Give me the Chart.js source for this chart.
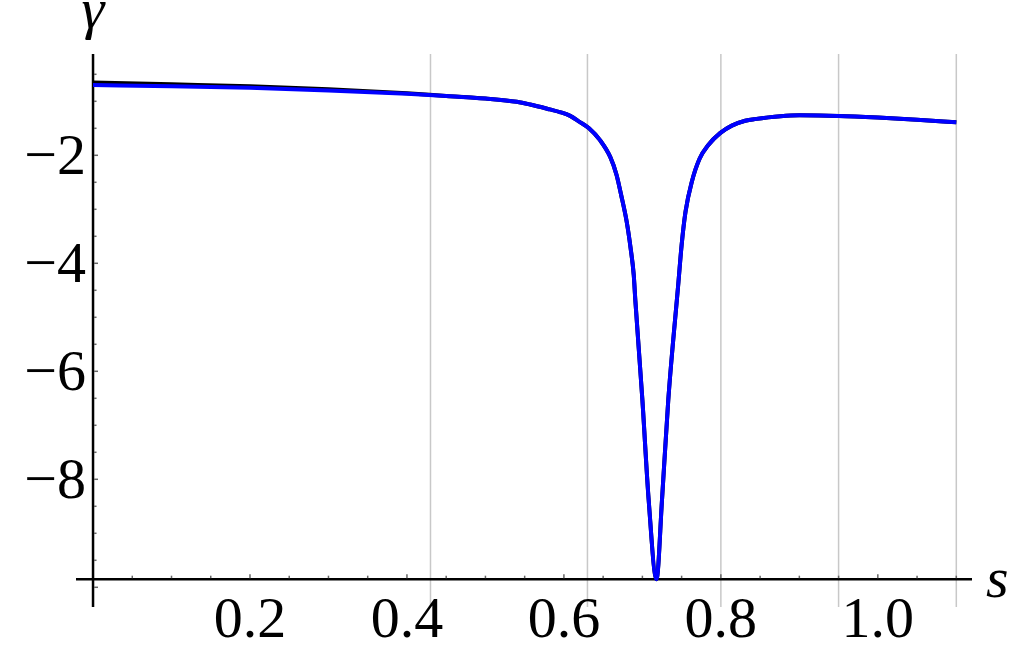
<!DOCTYPE html>
<html>
<head>
<meta charset="utf-8">
<script src="https://cdn.jsdelivr.net/npm/chart.js@4"></script>
<style>
  html, body { margin: 0; padding: 0; background: #fff; }
  #wrap { width: 1025px; height: 655px; position: relative; }
</style>
</head>
<body>
<div id="wrap"><canvas id="chartGamma"></canvas></div>
<script>
// ==================== DATA ====================
const sBlue = [0, 0.1, 0.2, 0.3, 0.4, 0.45, 0.5, 0.54, 0.557, 0.582, 0.595, 0.608, 0.62, 0.632, 0.646, 0.659, 0.667, 0.673, 0.68, 0.685, 0.689, 0.691, 0.7, 0.708, 0.718, 0.725, 0.733, 0.746, 0.75, 0.755, 0.763, 0.773, 0.784, 0.799, 0.814, 0.831, 0.843, 0.9, 0.95, 1.0, 1.05, 1.1];
const gammaBlue = [-0.70, -0.72, -0.75, -0.80, -0.86, -0.90, -0.95, -1.01, -1.06, -1.15, -1.20, -1.27, -1.38, -1.50, -1.72, -2.03, -2.36, -2.74, -3.23, -3.72, -4.22, -4.68, -6.53, -8.38, -9.85, -8.38, -6.53, -4.34, -3.66, -3.04, -2.49, -2.06, -1.81, -1.59, -1.45, -1.36, -1.33, -1.26, -1.27, -1.30, -1.34, -1.39];

const sBlack = [0, 0.1, 0.2, 0.3, 0.4, 0.45];
const gammaBlack = [-0.65, -0.685, -0.72, -0.775, -0.85, -0.90];

const xTicks = [0.2, 0.4, 0.6, 0.8, 1.0];
const xTickLabels = ["0.2", "0.4", "0.6", "0.8", "1.0"];
const yTicks = [-2, -4, -6, -8, -10];
const yTickLabels = ["−2", "−4", "−6", "−8", ""];
const gridS = [0.43, 0.63, 0.8, 0.95, 1.1];

const xAxisAt = -9.85;   // y value where the s axis crosses
const yAxisAt = 0;       // s value where the gamma axis crosses

// black curve joins the blue one after s = 0.45
const blackPoints = sBlack.map((s, i) => ({ x: s, y: gammaBlack[i] }))
    .concat(sBlue.map((s, i) => ({ x: s, y: gammaBlue[i] })).filter(p => p.x > 0.45));
const bluePoints = sBlue.map((s, i) => ({ x: s, y: gammaBlue[i] }));

const SERIF = '"Liberation Serif", "Times New Roman", serif';

// ==================== TRỤC KIỂU MATHEMATICA ====================
const mathAxes = {
    id: "mathAxes",
    beforeDatasetsDraw(chart) {
        const { ctx, chartArea, scales } = chart;
        const xs = scales.x, ys = scales.y;
        const x0 = xs.getPixelForValue(yAxisAt);
        const y0 = ys.getPixelForValue(xAxisAt);

        ctx.save();
        // gridlines
        ctx.strokeStyle = "#c8c8c8";
        ctx.lineWidth = 1.5;
        gridS.forEach(s => {
            const px = xs.getPixelForValue(s);
            ctx.beginPath();
            ctx.moveTo(px, chartArea.top);
            ctx.lineTo(px, chartArea.bottom);
            ctx.stroke();
        });

        // axis lines
        ctx.strokeStyle = "#000";
        ctx.lineWidth = 2.5;
        ctx.beginPath();
        ctx.moveTo(chartArea.left, y0);
        ctx.lineTo(chartArea.right, y0);
        ctx.moveTo(x0, chartArea.top);
        ctx.lineTo(x0, chartArea.bottom);
        ctx.stroke();

        // tick marks
        ctx.strokeStyle = "#666";
        ctx.lineWidth = 1.5;
        for (let k = 1; k <= 22; k++) {
            const s = k * 0.05;
            const px = xs.getPixelForValue(s);
            const len = (k % 4 === 0) ? 4 : 2.5;
            ctx.beginPath();
            ctx.moveTo(px, y0 - 1);
            ctx.lineTo(px, y0 - 1 - len);
            ctx.stroke();
        }
        for (let k = 1; k <= 20; k++) {
            const g = -k * 0.5;
            const py = ys.getPixelForValue(g);
            if (py < chartArea.top || py > chartArea.bottom) continue;
            const len = (k % 4 === 0) ? 4 : 2.5;
            ctx.beginPath();
            ctx.moveTo(x0 + 1, py);
            ctx.lineTo(x0 + 1 + len, py);
            ctx.stroke();
        }

        // tick labels
        ctx.fillStyle = "#000";
        ctx.font = "58px " + SERIF;
        ctx.textAlign = "center";
        ctx.textBaseline = "alphabetic";
        xTicks.forEach((s, i) => {
            ctx.fillText(xTickLabels[i], xs.getPixelForValue(s), y0 + 58);
        });
        ctx.textAlign = "right";
        ctx.textBaseline = "middle";
        yTicks.forEach((g, i) => {
            if (!yTickLabels[i]) return;
            ctx.fillText(yTickLabels[i], x0 - 7, ys.getPixelForValue(g) + 3);
        });

        // axis titles
        ctx.font = "italic 58px " + SERIF;
        ctx.textAlign = "center";
        ctx.textBaseline = "alphabetic";
        ctx.fillText("γ", x0, 28);
        ctx.textAlign = "left";
        ctx.fillText("s", chartArea.right + 14, y0 + 18);
        ctx.restore();
    }
};

// ==================== VẼ BIỂU ĐỒ ====================
new Chart(document.getElementById("chartGamma"), {
    type: "line",
    data: {
        datasets: [
            {
                label: "blue",
                data: bluePoints,
                borderColor: "#0000ff",
                borderWidth: 4,
                pointRadius: 0,
                cubicInterpolationMode: "monotone",
                fill: false,
                order: 1
            },
            {
                label: "black",
                data: blackPoints,
                borderColor: "#000000",
                borderWidth: 4,
                pointRadius: 0,
                cubicInterpolationMode: "monotone",
                fill: false,
                order: 2
            }
        ]
    },
    options: {
        responsive: true,
        maintainAspectRatio: false,
        animation: false,
        layout: { padding: { left: 76, right: 53, top: 54, bottom: 48 } },
        plugins: {
            legend: { display: false },
            tooltip: { enabled: false }
        },
        scales: {
            x: { type: "linear", min: -0.0217, max: 1.12, display: false },
            y: { type: "linear", min: -10.365, max: -0.124, display: false }
        }
    },
    plugins: [mathAxes]
});
</script>
</body>
</html>
